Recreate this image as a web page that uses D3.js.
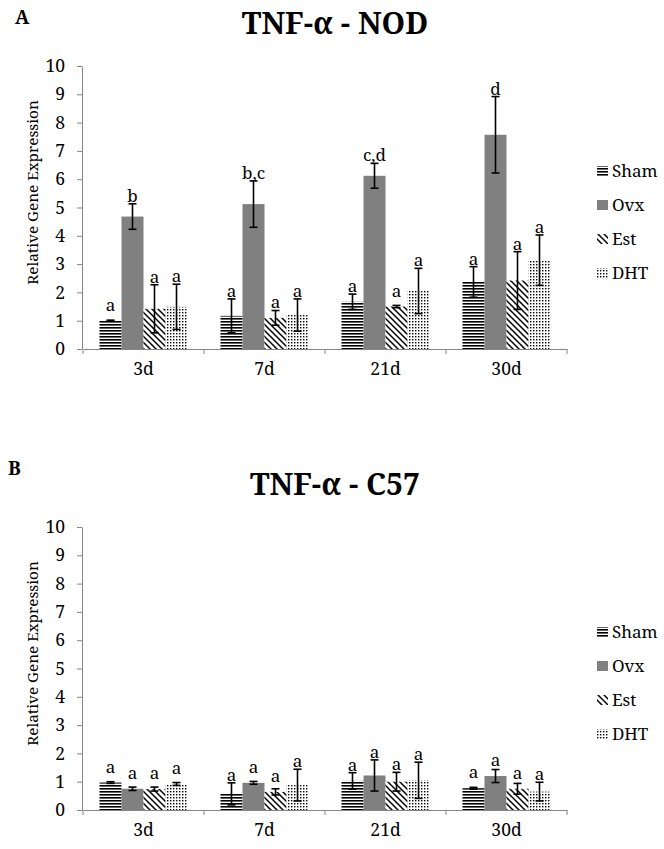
<!DOCTYPE html>
<html>
<head>
<meta charset="utf-8">
<script src="https://cdn.jsdelivr.net/npm/d3@7"></script>
<style>
  body { margin: 0; background: #fff; }
  svg { display: block; }
  text { font-family: "Noto Serif", "Liberation Serif", serif; fill: #000; }
</style>
</head>
<body>
<div id="chart"></div>
<script>
const groups = ['3d', '7d', '21d', '30d'];
const series = ['Sham', 'Ovx', 'Est', 'DHT'];
const yTicks = [0, 1, 2, 3, 4, 5, 6, 7, 8, 9, 10];

// panel A - NOD
const nodSham = [1.00, 1.17, 1.67, 2.37];
const nodShamErr = [0.02, 0.60, 0.27, 0.54];
const nodOvx = [4.68, 5.12, 6.12, 7.57];
const nodOvxErr = [0.45, 0.82, 0.44, 1.35];
const nodEst = [1.42, 1.10, 1.50, 2.42];
const nodEstErr = [0.85, 0.26, 0.04, 1.02];
const nodDht = [1.49, 1.20, 2.05, 3.14];
const nodDhtErr = [0.80, 0.57, 0.80, 0.89];
const nodLetters = [['a', 'b', 'a', 'a'], ['a', 'b,c', 'a', 'a'], ['a', 'c,d', 'a', 'a'], ['a', 'd', 'a', 'a']];

// panel B - C57
const c57Sham = [0.97, 0.57, 1.03, 0.77];
const c57ShamErr = [0.03, 0.39, 0.29, 0.03];
const c57Ovx = [0.75, 0.96, 1.22, 1.20];
const c57OvxErr = [0.06, 0.05, 0.55, 0.23];
const c57Est = [0.74, 0.64, 1.00, 0.75];
const c57EstErr = [0.07, 0.11, 0.33, 0.19];
const c57Dht = [0.92, 0.88, 1.05, 0.65];
const c57DhtErr = [0.05, 0.56, 0.64, 0.33];
const c57Letters = [['a', 'a', 'a', 'a'], ['a', 'a', 'a', 'a'], ['a', 'a', 'a', 'a'], ['a', 'a', 'a', 'a']];

const width = 664, height = 849;
const fills = { Sham: 'url(#pat-sham)', Ovx: '#808080', Est: 'url(#pat-est)', DHT: 'url(#pat-dht)' };

const svg = d3.select('#chart').append('svg')
    .attr('width', width)
    .attr('height', height);

// Fill patterns, similar to the Excel ones
const defs = svg.append('defs');

const sham = defs.append('pattern')
    .attr('id', 'pat-sham')
    .attr('patternUnits', 'userSpaceOnUse')
    .attr('width', 4).attr('height', 3);
sham.append('rect').attr('width', 4).attr('height', 3).attr('fill', '#fff');
sham.append('rect').attr('width', 4).attr('height', 1.6).attr('fill', '#000');

const est = defs.append('pattern')
    .attr('id', 'pat-est')
    .attr('patternUnits', 'userSpaceOnUse')
    .attr('width', 6).attr('height', 6);
est.append('rect').attr('width', 6).attr('height', 6).attr('fill', '#fff');
est.append('path')
    .attr('d', 'M-1,-1 L7,7 M-1,5 L1,7 M5,-1 L7,1')
    .attr('stroke', '#000')
    .attr('stroke-width', 1.5);

const dht = defs.append('pattern')
    .attr('id', 'pat-dht')
    .attr('patternUnits', 'userSpaceOnUse')
    .attr('width', 3).attr('height', 3);
dht.append('rect').attr('width', 3).attr('height', 3).attr('fill', '#fff');
dht.append('rect').attr('width', 1.4).attr('height', 1.4).attr('fill', '#000');

/**
 * Draws one panel (title, axes, bars, error bars, letters, legend).
 * @param cfg - panel settings: offset, title, data per series
 */
const drawPanel = (cfg) => {
  const g = svg.append('g').attr('transform', `translate(0, ${cfg.top})`);

  const x0 = d3.scaleBand().domain(groups).range([83, 567]);
  const x1 = d3.scaleBand().domain(series).range([0, x0.bandwidth()]).paddingOuter(0.75);
  const y = d3.scaleLinear().domain([0, 10]).range([349, 66]);

  // panel letter + title
  g.append('text')
      .attr('x', cfg.letterX).attr('y', cfg.letterY)
      .attr('font-size', 19).attr('font-weight', 'bold')
      .text(cfg.letter);

  g.append('text')
      .attr('x', 335).attr('y', 34)
      .attr('text-anchor', 'middle')
      .attr('font-size', 30).attr('font-weight', 'bold')
      .text(cfg.title);

  // y axis
  const yAxis = g.append('g')
      .attr('transform', 'translate(82, 0)')
      .call(d3.axisLeft(y).tickValues(yTicks).tickSize(5).tickPadding(12).tickSizeOuter(0));
  yAxis.attr('font-family', null);
  yAxis.selectAll('text').attr('font-size', 17.5);
  yAxis.selectAll('line, path').attr('stroke', '#868686');

  g.append('text')
      .attr('transform', `translate(38, ${y(5) - 15}) rotate(-90)`)
      .attr('text-anchor', 'middle')
      .attr('font-size', 15.3)
      .text('Relative Gene Expression');

  // x axis - labels centred, ticks on category boundaries
  const xAxis = g.append('g')
      .attr('transform', `translate(0, ${y(0)})`)
      .call(d3.axisBottom(x0).tickSize(0).tickPadding(14));
  xAxis.attr('font-family', null);
  xAxis.selectAll('text').attr('font-size', 17.5);
  xAxis.select('path').attr('stroke', '#868686');

  const bounds = groups.map((d) => x0(d)).concat([x0.range()[1]]);
  g.append('g').selectAll('line')
      .data(bounds)
      .enter()
      .append('line')
      .attr('x1', (d) => d).attr('x2', (d) => d)
      .attr('y1', y(0)).attr('y2', y(0) + 5)
      .attr('stroke', '#868686');

  // bars
  const rows = [];
  groups.forEach((grp, i) => {
    series.forEach((s, j) => {
      rows.push({ grp, s, v: cfg.values[j][i], e: cfg.errors[j][i], label: cfg.letters[i][j] });
    });
  });

  const bar = g.append('g').selectAll('g')
      .data(rows)
      .enter()
      .append('g')
      .attr('transform', (d) => `translate(${x0(d.grp)}, 0)`);

  bar.append('rect')
      .attr('x', (d) => x1(d.s))
      .attr('width', x1.bandwidth())
      .attr('y', (d) => y(d.v))
      .attr('height', (d) => y(0) - y(d.v))
      .attr('fill', (d) => fills[d.s]);

  // error bars
  const cx = (d) => x1(d.s) + x1.bandwidth() / 2;
  bar.append('line')
      .attr('x1', cx).attr('x2', cx)
      .attr('y1', (d) => y(d.v - d.e)).attr('y2', (d) => y(d.v + d.e))
      .attr('stroke', '#000').attr('stroke-width', 1.6);
  bar.append('line')
      .attr('x1', (d) => cx(d) - 4).attr('x2', (d) => cx(d) + 4)
      .attr('y1', (d) => y(d.v + d.e)).attr('y2', (d) => y(d.v + d.e))
      .attr('stroke', '#000').attr('stroke-width', 1.6);
  bar.append('line')
      .attr('x1', (d) => cx(d) - 4).attr('x2', (d) => cx(d) + 4)
      .attr('y1', (d) => y(d.v - d.e)).attr('y2', (d) => y(d.v - d.e))
      .attr('stroke', '#000').attr('stroke-width', 1.6);

  // significance letters
  bar.append('text')
      .attr('x', cx)
      .attr('y', (d) => Math.min(y(d.v + d.e) - 2, y(d.v) - 10))
      .attr('text-anchor', 'middle')
      .attr('font-size', 17)
      .text((d) => d.label);

  // legend
  const ly = d3.scalePoint().domain(series).range([171, 273]);
  const leg = g.append('g').selectAll('g')
      .data(series)
      .enter()
      .append('g')
      .attr('transform', (d) => `translate(597, ${ly(d)})`);
  leg.append('rect')
      .attr('y', -5).attr('width', 11).attr('height', 10)
      .attr('fill', (d) => fills[d]);
  leg.append('text')
      .attr('x', 15).attr('y', 6)
      .attr('font-size', 17)
      .text((d) => d);
};

drawPanel({
  top: 0, letter: 'A', letterX: 15, letterY: 24, title: 'TNF-α - NOD',
  values: [nodSham, nodOvx, nodEst, nodDht],
  errors: [nodShamErr, nodOvxErr, nodEstErr, nodDhtErr],
  letters: nodLetters
});

drawPanel({
  top: 461, letter: 'B', letterX: 8, letterY: 14, title: 'TNF-α - C57',
  values: [c57Sham, c57Ovx, c57Est, c57Dht],
  errors: [c57ShamErr, c57OvxErr, c57EstErr, c57DhtErr],
  letters: c57Letters
});
</script>
</body>
</html>
